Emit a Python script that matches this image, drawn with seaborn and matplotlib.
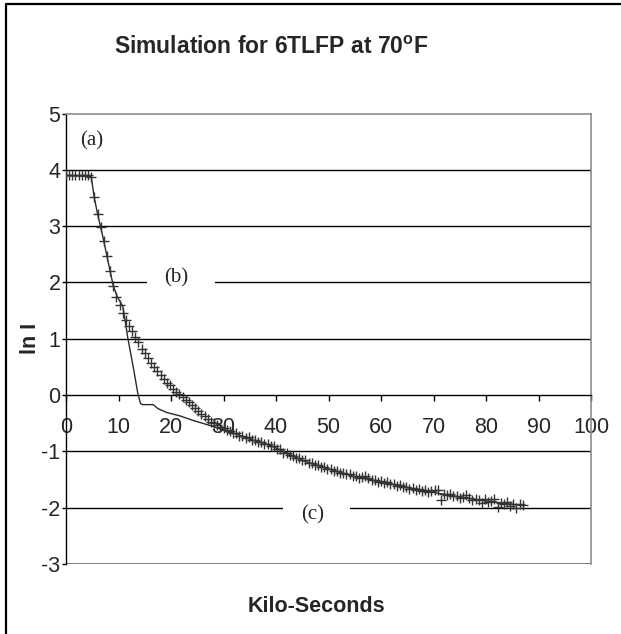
import numpy as np
import pandas as pd
import matplotlib
matplotlib.use("Agg")
import matplotlib.pyplot as plt
import seaborn as sns
from matplotlib.lines import Line2D
from matplotlib.patches import Rectangle

# ---------------- data ----------------
# measured points (+ markers)
meas_x = [round(0.6 * i, 1) for i in range(146)]
meas_y = [
    3.90, 3.90, 3.90, 3.90, 3.90, 3.90, 3.90, 3.90, 3.88, 3.51,
    3.22, 2.98, 2.73, 2.47, 2.20, 1.94, 1.75, 1.60, 1.45, 1.33,
    1.22, 1.13, 1.03, 0.94, 0.82, 0.75, 0.66, 0.57, 0.49, 0.42,
    0.35, 0.28, 0.22, 0.17, 0.11, 0.06, 0.02, -0.03, -0.08, -0.13,
    -0.18, -0.23, -0.28, -0.33, -0.38, -0.43, -0.47, -0.50, -0.53, -0.56,
    -0.59, -0.62, -0.63, -0.67, -0.68, -0.72, -0.72, -0.76, -0.75, -0.79,
    -0.79, -0.83, -0.83, -0.87, -0.87, -0.91, -0.91, -0.95, -0.96, -1.02,
    -1.03, -1.07, -1.08, -1.12, -1.12, -1.16, -1.16, -1.20, -1.20, -1.24,
    -1.24, -1.28, -1.27, -1.31, -1.31, -1.35, -1.35, -1.38, -1.38, -1.41,
    -1.41, -1.44, -1.43, -1.47, -1.46, -1.44, -1.47, -1.50, -1.51, -1.54,
    -1.53, -1.56, -1.55, -1.58, -1.58, -1.61, -1.60, -1.63, -1.63, -1.66,
    -1.65, -1.68, -1.67, -1.70, -1.69, -1.72, -1.71, -1.68, -1.69, -1.86,
    -1.75, -1.78, -1.76, -1.80, -1.79, -1.82, -1.81, -1.78, -1.83, -1.87,
    -1.84, -1.87, -1.92, -1.84, -1.90, -1.89, -1.85, -1.98, -1.91, -1.94,
    -1.90, -1.97, -1.93, -2.00, -1.94, -1.95,
]

# simulation curve (solid line)
sim_x = [0, 4.8, 5.4, 6.0, 7.0, 8.0, 9.0, 9.8, 10.8, 11.3, 11.8, 12.8, 13.7,
         14.2, 14.6, 16.6, 17.5, 19.2, 21.7, 24.2, 27.4, 30.0, 32.0, 35.0,
         38.2, 40, 45, 50, 55, 60, 65, 70, 75, 80, 85, 87]
sim_y = [3.90, 3.88, 3.50, 3.22, 2.82, 2.38, 1.94, 1.74, 1.58, 1.30, 1.00,
         0.50, 0.02, -0.15, -0.17, -0.17, -0.24, -0.31, -0.37, -0.45, -0.54,
         -0.62, -0.68, -0.78, -0.87, -0.94, -1.16, -1.31, -1.45, -1.54,
         -1.64, -1.73, -1.81, -1.88, -1.94, -1.96]

x_ticks = [0, 10, 20, 30, 40, 50, 60, 70, 80, 90, 100]
y_ticks = [5, 4, 3, 2, 1, 0, -1, -2, -3]
grid_levels = [4, 3, 2, 1, -1, -2, -3]

title_text = r"Simulation for 6TLFP at 70$^{\mathbf{o}}$F"
x_label = "Kilo-Seconds"
y_label = "ln I"
notes = ["(a)", "(b)", "(c)"]

# ---------------- style ----------------
sns.set_style("white")
plt.rcParams["font.family"] = ["Liberation Sans", "DejaVu Sans"]
plt.rcParams["mathtext.fontset"] = "custom"
plt.rcParams["mathtext.rm"] = "Liberation Sans"
plt.rcParams["mathtext.bf"] = "Liberation Sans:bold"

W, H = 621, 634
fig = plt.figure(figsize=(W / 100, H / 100), dpi=100)
fig.patch.set_facecolor("white")

left, right = 66 / W, 591 / W
bottom, top = 1 - 564 / H, 1 - 113.5 / H
ax = fig.add_axes([left, bottom, right - left, top - bottom])
ax.set_facecolor("white")

ax.set_xlim(0, 100)
ax.set_ylim(-3, 5)

# gridlines
for g in grid_levels:
    ax.axhline(g, color="black", lw=1.0, zorder=1)

# white gaps behind labels (b) and (c)
ax.add_patch(Rectangle((15.4, 1.9), 13.0, 0.2, facecolor="white",
                       edgecolor="none", zorder=1.5))
ax.add_patch(Rectangle((41.3, -2.1), 12.8, 0.2, facecolor="white",
                       edgecolor="none", zorder=1.5))

meas = pd.DataFrame({"x": meas_x, "y": meas_y})
sim = pd.DataFrame({"x": sim_x, "y": sim_y})

sns.lineplot(data=sim, x="x", y="y", ax=ax, color="#2a2a2a", lw=1.0,
             estimator=None, sort=False, zorder=3)
sns.scatterplot(data=meas, x="x", y="y", ax=ax, color="#333333",
                marker="+", s=55, linewidth=1.0, zorder=4)

# spines
for s in ["top", "right"]:
    ax.spines[s].set_color("#8c8c8c")
    ax.spines[s].set_linewidth(1.2)
ax.spines["left"].set_color("black")
ax.spines["left"].set_linewidth(1.0)
ax.spines["bottom"].set_position(("data", 0))
ax.spines["bottom"].set_color("black")
ax.spines["bottom"].set_linewidth(1.0)
ax.axhline(-3, color="#8c8c8c", lw=1.2, zorder=0.9)

ax.set_xticks(x_ticks)
ax.set_yticks(y_ticks)
ax.set_xticklabels([str(v) for v in x_ticks])
ax.set_yticklabels([str(v) for v in y_ticks])
ax.tick_params(axis="x", direction="out", length=4.5, width=1.0,
               color="black", pad=11, labelsize=15.5, bottom=True)
ax.tick_params(axis="y", direction="out", length=3, width=1.0,
               color="black", pad=1, labelsize=15.5, left=True)
ax.set_xlabel("")
ax.set_ylabel("")

# annotations
ax.text(4.9, 4.52, notes[0], family="Liberation Serif", fontsize=15,
        ha="center", va="center", zorder=5)
ax.text(21.0, 2.08, notes[1], family="Liberation Serif", fontsize=15,
        ha="center", va="center", zorder=5)
ax.text(47.0, -2.13, notes[2], family="Liberation Serif", fontsize=15,
        ha="center", va="center", zorder=5)

# titles
fig.text(271 / W, 1 - 47 / H, title_text, fontsize=16.5, fontweight="bold",
         ha="center", va="center")
fig.text(316 / W, 1 - 606 / H, x_label, fontsize=15.5, fontweight="bold",
         ha="center", va="center")
fig.text(30 / W, 1 - 338 / H, y_label, fontsize=15.5, fontweight="bold",
         ha="center", va="center", rotation=90)

# outer frame (cropped on right/bottom)
fig.add_artist(Line2D([6 / W, 6 / W, 1.0], [0.0, 1 - 4 / H, 1 - 4 / H],
                      transform=fig.transFigure, color="black", lw=1.6))

fig.savefig("out.png", dpi=100, facecolor="white")
